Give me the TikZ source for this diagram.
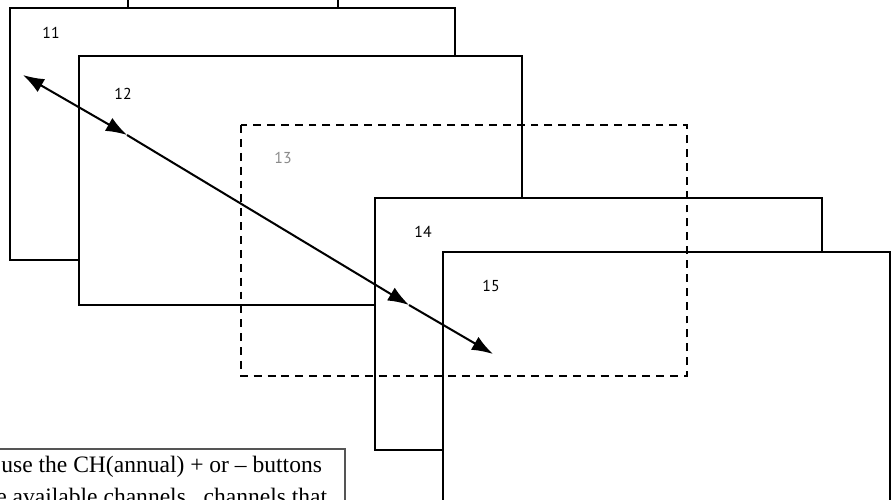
\documentclass[tikz,border=0pt]{standalone}
\usepackage{fontspec}
\setmainfont{Liberation Serif}
\setsansfont{PT Sans}
\usetikzlibrary{arrows.meta}
\definecolor{labelGray}{HTML}{8A8A8A}
\definecolor{noteGray}{HTML}{555555}

\begin{document}
\begin{tikzpicture}[x=0.02cm, y=-0.02cm, >={Latex[length=12pt,width=8.5pt]},
    pane/.style={draw, line width=1.15pt, fill=white},
    panelabel/.style={font=\sffamily\fontsize{9}{10}\selectfont, inner sep=0pt},
    flow/.style={line width=1.15pt}]
  \useasboundingbox (0,0) rectangle (896,500);
  \clip (0,0) rectangle (896,500);
  % stacked panes, back to front; only the top of the first one shows
  \draw[pane] (128,-20) rectangle (338,100);
  \foreach \n/\x/\y/\r/\b/\lx/\ly in {11/10/8/455/260/51/33, 12/79/56/522/305/123/94,
      14/375/198/822/450/423/232, 15/443/252/890/540/491/286} {
    \draw[pane] (\x,\y) rectangle (\r,\b);
    \node[panelabel] (lab\n) at (\lx,\ly) {\n};
  }
  % the dashed pane lies over all the others
  \draw[line width=1.15pt, dash pattern=on 4.5pt off 3.4pt] (241,125) rectangle (687,376);
  \node[panelabel, text=labelGray] (lab13) at (283,158) {13};
  % path through the panes
  \coordinate (p0) at (23,75);
  \coordinate (p1) at (127,135);
  \coordinate (p2) at (409,305);
  \coordinate (p3) at (493,354);
  \draw[flow, <->] (p0) -- (p1);
  \draw[flow, ->] (p1) -- (p2);
  \draw[flow, ->] (p2) -- (p3);
  % note box, cut by the bottom left corner
  \draw[noteGray, line width=0.8pt] (-40,449) rectangle (345,560);
  \node[anchor=base west, inner sep=0pt, font=\fontsize{13.4}{18}\selectfont] (noteA) at (1,472)
    {use the CH(annual) + or -- buttons};
  \node[anchor=base west, inner sep=0pt, font=\fontsize{13.4}{18}\selectfont] (noteB) at (-4,504)
    {e available channels,\ \ channels that};
\end{tikzpicture}
\end{document}
